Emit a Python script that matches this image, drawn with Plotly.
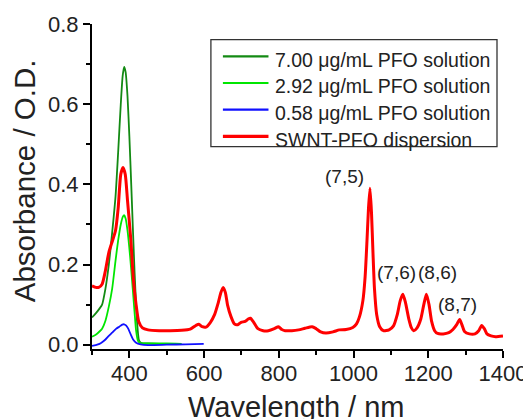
import plotly.graph_objects as go

# ---- data ----
swnt_x = [300, 310, 318, 327, 336, 345, 355, 363, 370, 377, 383, 389, 395, 404, 411, 418, 425, 435, 450, 480,
          509, 540, 563, 578, 586, 595, 605, 617, 628, 638, 645, 651, 657, 663, 672, 681, 690, 699, 710, 718,
          724, 732, 744, 758, 772, 788, 799, 808, 817, 835, 853, 870, 889, 900, 912, 926, 945, 962, 980, 998,
          1008, 1016, 1025, 1031, 1036, 1040, 1044, 1048, 1052, 1056, 1062, 1070, 1080, 1095, 1107, 1117, 1125,
          1132, 1139, 1148, 1155, 1161, 1170, 1180, 1188, 1195, 1202, 1209, 1217, 1225, 1240, 1255, 1266, 1276,
          1284, 1290, 1297, 1310, 1325, 1335, 1343, 1350, 1357, 1368, 1380, 1400]
swnt_y = [0.147, 0.143, 0.143, 0.151, 0.185, 0.23, 0.26, 0.285, 0.34, 0.425, 0.442, 0.425, 0.36, 0.26, 0.16,
          0.10, 0.058, 0.042, 0.037, 0.035, 0.035, 0.036, 0.039, 0.048, 0.051, 0.045, 0.044, 0.056, 0.075,
          0.105, 0.13, 0.143, 0.13, 0.098, 0.07, 0.052, 0.05, 0.056, 0.058, 0.064, 0.066, 0.057, 0.04, 0.035,
          0.035, 0.04, 0.045, 0.038, 0.035, 0.035, 0.037, 0.041, 0.045, 0.04, 0.032, 0.029, 0.032, 0.037,
          0.038, 0.043, 0.052, 0.07, 0.11, 0.17, 0.26, 0.34, 0.39, 0.33, 0.23, 0.14, 0.075, 0.045, 0.035,
          0.037, 0.047, 0.075, 0.11, 0.126, 0.105, 0.064, 0.042, 0.035, 0.042, 0.064, 0.1, 0.126, 0.1, 0.058,
          0.035, 0.028, 0.027, 0.03, 0.038, 0.05, 0.063, 0.05, 0.033, 0.027, 0.027, 0.035, 0.048, 0.04,
          0.027, 0.022, 0.02, 0.022]

pfo700_x = [300, 310, 320, 327, 336, 345, 354, 363, 370, 377, 382, 386, 390, 395, 400, 405, 409, 414, 418, 422,
            426, 432, 450, 480, 510]
pfo700_y = [0.068, 0.078, 0.09, 0.1, 0.14, 0.2, 0.28, 0.37, 0.48, 0.6, 0.67, 0.693, 0.68, 0.62, 0.52, 0.40,
            0.3, 0.18, 0.1, 0.04, 0.01, 0.004, 0.003, 0.002, 0.002]

pfo292_x = [300, 310, 320, 327, 336, 345, 354, 363, 370, 377, 383, 386, 390, 395, 402, 409, 414, 418, 423, 430,
            460, 500, 540]
pfo292_y = [0.02, 0.025, 0.033, 0.04, 0.06, 0.095, 0.14, 0.21, 0.26, 0.3, 0.32, 0.323, 0.315, 0.285, 0.22,
            0.14, 0.08, 0.035, 0.01, 0.004, 0.003, 0.003, 0.002]

pfo058_x = [300, 310, 320, 327, 336, 345, 354, 365, 373, 381, 386, 391, 397, 403, 410, 418, 430, 450, 500, 550,
            599]
pfo058_y = [-0.003, -0.001, 0.002, 0.006, 0.013, 0.022, 0.03, 0.04, 0.045, 0.05, 0.051, 0.048, 0.04, 0.027,
            0.013, 0.005, 0.001, -0.001, 0.0, 0.001, 0.002]

series_names = ["7.00 \u03bcg/mL PFO solution", "2.92 \u03bcg/mL PFO solution",
                "0.58 \u03bcg/mL PFO solution", "SWNT-PFO dispersion"]
series_colors = ["#138a13", "#00e600", "#1010ff", "#ff0000"]
series_widths = [1.8, 1.8, 1.8, 3.0]

peak_labels = ["(7,5)", "(7,6)", "(8,6)", "(8,7)"]
peak_label_x = [975, 1116, 1226, 1279]
peak_label_y = [0.42, 0.179, 0.179, 0.1015]

x_ticks = [400, 600, 800, 1000, 1200, 1400]
y_ticks = [0.0, 0.2, 0.4, 0.6, 0.8]

FONT = "Arial, Liberation Sans, sans-serif"

fig = go.Figure()
all_x = [pfo700_x, pfo292_x, pfo058_x, swnt_x]
all_y = [pfo700_y, pfo292_y, pfo058_y, swnt_y]
for xs, ys, nm, col, w in zip(all_x, all_y, series_names, series_colors, series_widths):
    fig.add_trace(go.Scatter(x=xs, y=ys, name=nm, mode="lines", showlegend=False,
                             line=dict(color=col, width=w, shape="spline", smoothing=0.6)))

for t, xx, yy in zip(peak_labels, peak_label_x, peak_label_y):
    fig.add_annotation(x=xx, y=yy, text=t, showarrow=False, xref="x", yref="y",
                       font=dict(family=FONT, size=19, color="#222"))

# axis titles
fig.add_annotation(x=0.498, y=-0.178, xref="paper", yref="paper", text="Wavelength / nm",
                   showarrow=False, font=dict(family=FONT, size=29, color="#222"),
                   xanchor="center", yanchor="middle")
fig.add_annotation(x=-0.164, y=0.518, xref="paper", yref="paper", text="Absorbance / O.D.",
                   showarrow=False, font=dict(family=FONT, size=29.5, color="#222"),
                   textangle=-90, xanchor="center", yanchor="middle")

# legend box (drawn in paper coordinates)
leg_x0, leg_x1, leg_y0, leg_y1 = 0.2893, 0.9854, 0.6225, 0.9517
leg_line_x0, leg_line_x1, leg_text_x = 0.3185, 0.4294, 0.44
leg_rows = [0.9003, 0.8184, 0.7363, 0.6541]
fig.add_shape(type="rect", xref="paper", yref="paper", x0=leg_x0, x1=leg_x1, y0=leg_y0, y1=leg_y1,
              line=dict(color="#333", width=1.3), fillcolor="white", layer="above")
for nm, col, w, ry in zip(series_names, series_colors, series_widths, leg_rows):
    fig.add_shape(type="line", xref="paper", yref="paper", x0=leg_line_x0, x1=leg_line_x1, y0=ry, y1=ry,
                  line=dict(color=col, width=w + 0.4), layer="above")
    fig.add_annotation(x=leg_text_x, y=ry - 0.0102, xref="paper", yref="paper", text=nm, showarrow=False,
                       xanchor="left", yanchor="middle", font=dict(family=FONT, size=19.5, color="#222"))

axis_common = dict(showline=True, linecolor="black", linewidth=2, ticks="outside", tickwidth=2,
                   ticklen=7, tickcolor="black", showgrid=False, zeroline=False, automargin=False,
                   tickfont=dict(family=FONT, size=22, color="#222"))

fig.update_xaxes(range=[300, 1400], tickvals=x_ticks, ticktext=[str(v) for v in x_ticks],
                 ticklabelstandoff=-3,
                 minor=dict(dtick=100, tick0=0, ticks="outside", ticklen=4, tickwidth=2, tickcolor="black"),
                 **axis_common)
fig.update_yaxes(range=[-0.0107, 0.8], tickvals=y_ticks, ticktext=["%.1f" % v for v in y_ticks],
                 minor=dict(dtick=0.1, tick0=0, ticks="outside", ticklen=4, tickwidth=2, tickcolor="black"),
                 **axis_common)

fig.update_layout(
    width=531, height=419,
    margin=dict(l=83.7, r=36, t=16.3, b=77.7, autoexpand=False),
    paper_bgcolor="white", plot_bgcolor="white",
    showlegend=False,
)

fig.write_html("out.html")
